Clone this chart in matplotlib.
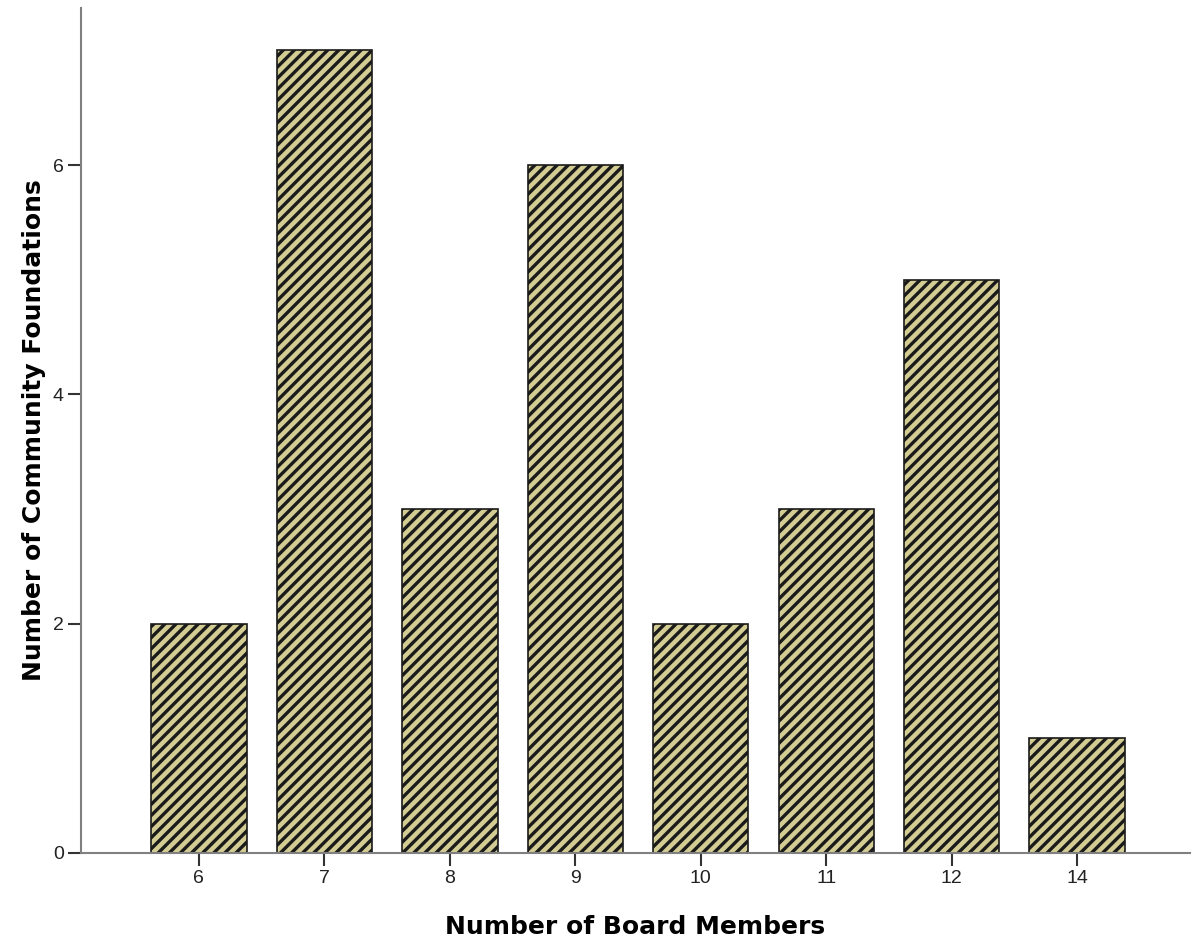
import matplotlib
matplotlib.use("Agg")
import matplotlib.pyplot as plt

board_sizes = ["6", "7", "8", "9", "10", "11", "12", "14"]
foundations = [2, 7, 3, 6, 2, 3, 5, 1]

plt.rcParams["hatch.linewidth"] = 2.4
plt.rcParams["hatch.color"] = "black"

fig = plt.figure(figsize=(11.93, 9.42), dpi=100)
ax = fig.add_axes([0.0679, 0.0945, 0.9296, 0.897])

x = range(len(board_sizes))
ax.bar(x, foundations, width=0.76, color="#d3cc93", edgecolor="#1a1a1a",
       linewidth=1.2, hatch="///")

ax.set_xticks(list(x))
ax.set_xticklabels(board_sizes, fontfamily="Liberation Sans")
ax.set_yticks([0, 2, 4, 6])
ax.set_yticklabels(["0", "2", "4", "6"], fontfamily="Liberation Sans")
ax.set_xlim(-0.94, 7.9)
ax.set_ylim(0, 7.37)

for side in ["top", "right"]:
    ax.spines[side].set_visible(False)
for side in ["left", "bottom"]:
    ax.spines[side].set_color("#808080")
    ax.spines[side].set_linewidth(1.5)

ax.tick_params(axis="both", direction="out", length=9.5, width=1.5,
               color="#333333", labelsize=14, labelcolor="#222222", pad=3)

ax.set_xlabel("Number of Board Members", fontsize=18, fontweight="bold", labelpad=20)
ax.set_ylabel("Number of Community Foundations", fontsize=18, fontweight="bold", labelpad=5)

fig.savefig("out.png", dpi=100)
plt.close()
